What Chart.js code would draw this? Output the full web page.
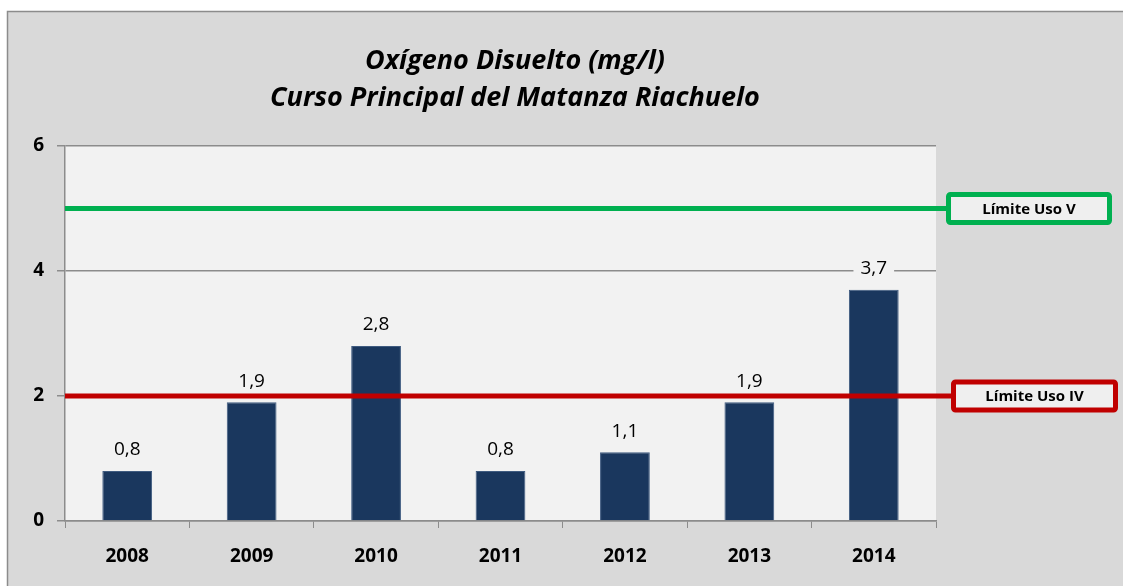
<!DOCTYPE html>
<html><head><meta charset="utf-8">
<script src="https://cdn.jsdelivr.net/npm/chart.js@4/dist/chart.umd.min.js"></script>
<style>html,body{margin:0;padding:0;background:#fff;overflow:hidden}#wrap{width:1123px;height:586px}</style>
</head><body><div id="wrap"><canvas id="c" width="1123" height="586"></canvas></div>
<script>
const categories = ['2008','2009','2010','2011','2012','2013','2014'];
const values = [0.8, 1.9, 2.8, 0.8, 1.1, 1.9, 3.7];
const yTicks = [0, 2, 4, 6];
const limitValues = [5, 2];
const limitLabels = ['Límite Uso V', 'Límite Uso IV'];
const limitColors = ['#00b050', '#c00000'];
const titleLines = ['Oxígeno Disuelto (mg/l)', 'Curso Principal del Matanza Riachuelo'];
const FONT = '"Open Sans", Lato, sans-serif';

const bgPlugin = {
  id: 'bg',
  beforeDraw(chart) {
    const ctx = chart.ctx, a = chart.chartArea;
    ctx.save();
    ctx.fillStyle = '#ffffff';
    ctx.fillRect(0, 0, chart.width, chart.height);
    ctx.fillStyle = '#d9d9d9';
    ctx.fillRect(7, 11, chart.width, chart.height);
    ctx.strokeStyle = '#8c8c8c';
    ctx.lineWidth = 1.5;
    ctx.beginPath();
    ctx.moveTo(7.5, chart.height + 5);
    ctx.lineTo(7.5, 11.5);
    ctx.lineTo(chart.width + 5, 11.5);
    ctx.stroke();
    ctx.fillStyle = '#f2f2f2';
    ctx.fillRect(a.left, a.top, a.right - a.left, a.bottom - a.top);
    // title
    ctx.fillStyle = '#000';
    ctx.font = 'italic bold 27px ' + FONT;
    ctx.textAlign = 'center';
    ctx.textBaseline = 'middle';
    ctx.fillText(titleLines[0], 515, 61);
    ctx.fillText(titleLines[1], 515, 98);
    ctx.restore();
  },
  afterDatasetsDraw(chart) {
    const ctx = chart.ctx, a = chart.chartArea, ys = chart.scales.y;
    const meta = chart.getDatasetMeta(0);
    ctx.save();
    // data labels
    ctx.font = '19px ' + FONT;
    ctx.textAlign = 'center';
    ctx.textBaseline = 'middle';
    meta.data.forEach((bar, i) => {
      const txt = values[i].toFixed(1).replace('.', ',');
      const w = ctx.measureText(txt).width;
      const y = bar.y - 21;
      ctx.fillStyle = '#f2f2f2';
      ctx.fillRect(bar.x - w / 2 - 7, y - 10, w + 14, 20);
      ctx.fillStyle = '#000';
      ctx.fillText(txt, bar.x, y);
    });
    // limit lines & boxes
    const boxes = [{x: 946, w: 166}, {x: 951, w: 167}];
    limitValues.forEach((v, i) => {
      const y = ys.getPixelForValue(v);
      ctx.strokeStyle = limitColors[i];
      ctx.lineWidth = 5;
      ctx.beginPath();
      ctx.moveTo(a.left, y);
      ctx.lineTo(boxes[i].x + 2, y);
      ctx.stroke();
      const bx = boxes[i].x, bw = boxes[i].w, bh = 33, by = y - bh / 2;
      ctx.fillStyle = '#efefef';
      ctx.beginPath();
      ctx.roundRect(bx + 2.5, by + 2.5, bw - 5, bh - 5, 2);
      ctx.fill();
      ctx.stroke();
      ctx.fillStyle = '#000';
      ctx.font = 'bold 15px ' + FONT;
      ctx.fillText(limitLabels[i], bx + bw / 2, y + 1);
    });
    ctx.restore();
  }
};

new Chart(document.getElementById('c'), {
  type: 'bar',
  data: {
    labels: categories,
    datasets: [{
      data: values,
      backgroundColor: '#1a375e',
      borderColor: '#3f5b80',
      borderWidth: 1,
      categoryPercentage: 1,
      barPercentage: 0.4
    }]
  },
  options: {
    responsive: false,
    animation: false,
    devicePixelRatio: 1,
    layout: {padding: {left: 0, top: 146, right: 187, bottom: 0}},
    plugins: {legend: {display: false}, tooltip: {enabled: false}, title: {display: false}},
    scales: {
      x: {
        afterFit(s) { s.height = 65; },
        grid: {display: true, drawOnChartArea: false, drawTicks: true, tickLength: 7, color: '#8c8c8c', offset: true},
        border: {display: true, color: '#8c8c8c', width: 1.5},
        ticks: {color: '#000', font: {family: FONT, size: 19, weight: 'bold'}, padding: 17}
      },
      y: {
        min: 0, max: 6,
        afterFit(s) { s.width = 65; },
        afterBuildTicks(s) { s.ticks = yTicks.map(v => ({value: v})); },
        grid: {color: '#8c8c8c', lineWidth: 1.5, tickLength: 8, drawTicks: true},
        border: {display: true, color: '#8c8c8c', width: 1.5},
        ticks: {color: '#000', font: {family: FONT, size: 19, weight: 'bold'}, padding: 13}
      }
    }
  },
  plugins: [bgPlugin]
});
</script></body></html>
